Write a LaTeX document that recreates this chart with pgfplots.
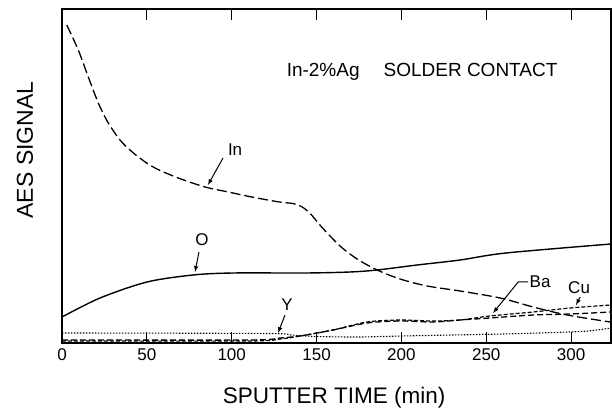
\documentclass[border=0pt]{standalone}
\usepackage{fontspec}
\setmainfont{Liberation Sans}
\usepackage{pgfplots}
\pgfplotsset{compat=1.18}
\begin{document}
\begin{tikzpicture}
\begin{axis}[
  scale only axis,
  width=549pt, height=334pt,
  xmin=0, xmax=323.5, ymin=0, ymax=334,
  axis line style={line width=1.4pt},
  xtick={0,50,...,300},
  ytick=\empty,
  tick align=inside,
  xtick pos=both,
  xticklabel pos=lower,
  major tick length=11pt,
  every tick/.style={black, line width=1pt},
  /pgf/number format/assume math mode=true,
  xticklabel style={font=\fontsize{17}{17}\selectfont, yshift=-2pt},
  clip=false,
]
% invisible frame to reproduce margins
\path (rel axis cs:-0.1129,-0.2006) rectangle (rel axis cs:1.0018,1.0269);

% In (long dashes)
\addplot[black, line width=1.3pt, smooth, tension=0.5, dash pattern=on 10pt off 4pt] coordinates {
(2.8,318) (9.6,293) (15.5,266) (21.4,240) (27.3,220) (35.2,201) (45.0,186) (54.8,175) (68.5,165)
(84.3,156) (98.0,151) (111.8,146) (128,141) (136,139.5) (141,136.5) (146,130) (153,116) (163.8,97)
(173.9,84) (185.7,73) (199.2,64) (215.1,57) (234.6,52) (258.2,45) (277.6,36) (297.6,28) (323.0,21)};

% O (solid)
\addplot[black, line width=1.4pt, smooth, tension=0.5] coordinates {
(0,26) (22.4,45) (50.1,61) (77.2,68) (100.8,70) (143.8,70) (169.7,71) (185.7,73)
(209.2,78) (234.6,83) (261.6,90) (323.5,99)};

% Ba (medium dashes)
\addplot[black, line width=1.3pt, smooth, tension=0.5, dash pattern=on 6pt off 3pt] coordinates {
(0,3) (110,3) (128.5,5) (140.2,7) (159.7,13) (179.7,20) (199.2,22) (218.6,21) (234.6,23)
(252.2,25) (277.6,28) (299.4,29) (323.5,31)};

% Cu (short dashes)
\addplot[black, line width=1.2pt, smooth, tension=0.5, dash pattern=on 4pt off 2pt] coordinates {
(0,2) (110,2) (128.5,4) (140.2,7) (159.7,13) (179.7,21) (199.2,23) (218.6,22) (234.6,23)
(252.2,27) (277.6,31) (299.4,35) (323.5,38)};

% Y (dotted)
\addplot[black, line width=1.1pt, smooth, tension=0.5, dash pattern=on 1.5pt off 1.5pt] coordinates {
(0,10) (120,9.5) (135,8) (150,6.5) (175,6) (200,7) (230,8) (260,9) (290,10.5) (310,12) (323.5,15)};

% annotations
\node[font=\fontsize{19}{19}\selectfont] at (axis cs:212.2,271) {In-2\%Ag\hspace{24pt}SOLDER CONTACT};

\node[font=\fontsize{17}{17}\selectfont] at (axis cs:102.0,193) {In};
\draw[line width=1pt, -{latex}] (axis cs:94.9,185) -- (axis cs:86.0,158);

\node[font=\fontsize{17}{17}\selectfont] at (axis cs:82.5,103) {O};
\draw[line width=1pt, -{latex}] (axis cs:80.7,91) -- (axis cs:78.4,71);

\node[font=\fontsize{17}{17}\selectfont] at (axis cs:132.6,38) {Y};
\draw[line width=1pt, -{latex}] (axis cs:131.4,28) -- (axis cs:127.3,10);

\node[font=\fontsize{17}{17}\selectfont] at (axis cs:281.7,61) {Ba};
\draw[line width=1pt, -{latex}] (axis cs:274.7,61) -- (axis cs:268.8,61) -- (axis cs:254.0,30);

\node[font=\fontsize{17}{17}\selectfont] at (axis cs:304.7,55) {Cu};
\draw[line width=1pt, -{latex}] (axis cs:305.3,46) -- (axis cs:302.9,38);

% axis labels
\node[font=\fontsize{22.5}{22.5}\selectfont] at (axis cs:160.3,-55) {SPUTTER TIME (min)};
\node[font=\fontsize{23}{23}\selectfont, rotate=90] at (axis cs:-21.8,193) {AES SIGNAL};
\end{axis}
\end{tikzpicture}
\end{document}
